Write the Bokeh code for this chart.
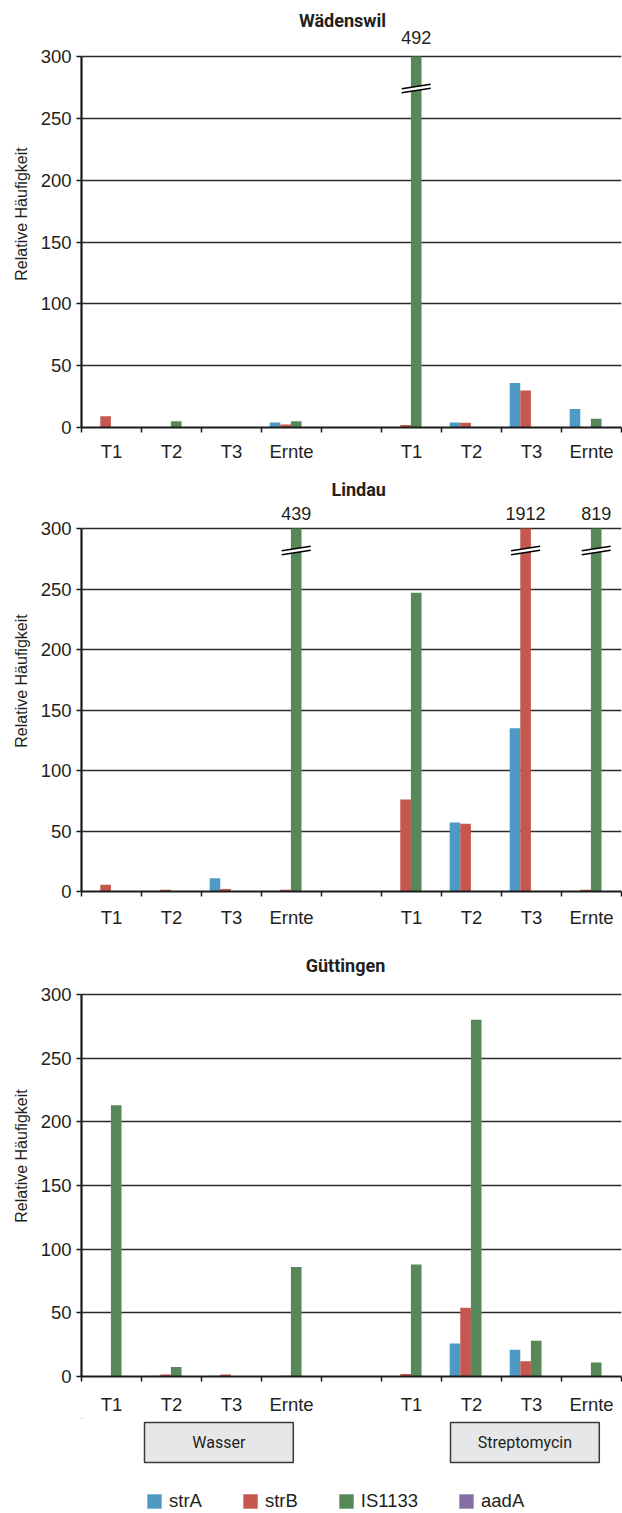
import numpy as np
from bokeh.plotting import figure
from bokeh.models import Range1d, FixedTicker, Legend, LegendItem
from bokeh.layouts import column
from bokeh.core.properties import value
from bokeh.embed import file_html
from bokeh.resources import INLINE

# ---------------- data ----------------
categories = ["T1", "T2", "T3", "Ernte", "", "T1", "T2", "T3", "Ernte"]
series = ["strA", "strB", "IS1133", "aadA"]
sites = ["Wädenswil", "Lindau", "Güttingen"]
treatments = ["Wasser", "Streptomycin"]
y_ticks = [0, 50, 100, 150, 200, 250, 300]
y_label = "Relative Häufigkeit"

waed_strA = [0, 0, 0, 4, 0, 0, 4, 36, 15]
waed_strB = [9, 0, 0, 2.5, 0, 2, 3.8, 30, 0]
waed_is1133 = [0, 5, 0, 5, 0, 492, 0, 0, 7]
waed_aadA = [0, 0, 0, 0, 0, 0, 0, 0, 0]

lind_strA = [0, 0, 11, 0, 0, 0, 57, 135, 0]
lind_strB = [5.5, 1.5, 2, 1.5, 0, 76, 56, 1912, 1.5]
lind_is1133 = [0, 0, 0, 439, 0, 247, 0, 0, 819]
lind_aadA = [0, 0, 0, 0, 0, 0, 0, 0, 0]

gutt_strA = [0, 0.5, 0.5, 0, 0, 0, 26, 21, 0]
gutt_strB = [0, 1.5, 1.5, 0.5, 0, 2, 54, 12, 0]
gutt_is1133 = [213, 7.5, 0, 86, 0, 88, 280, 28, 11]
gutt_aadA = [0, 0, 0, 0, 0, 0, 0, 0, 0]

# ---------------- style ----------------
colors = ["#4F9AC5", "#C5574F", "#56885A", "#8570A3"]
TXT = "#231f20"
GRID = "#2b2b2b"
AXIS = "#1a1a1a"
FONT = "Liberation Sans"
TITLE_FONT = "Roboto"
Y_MAX = 300
BAR_W = 0.177
GROUP_C = 0.49
FIG_W = 622
LEFT = 81
RIGHT = 1

# per panel layout: fig height, bottom border, px from frame top to 300 line,
# title baseline px from frame top, value-label baseline px, title center x (data),
# break px below 300, x label standoff
layouts = [
    dict(H=470, B=43, T=56, title_px=20, val_px=37, title_x=4.35, brk=32, so=8),
    dict(H=465, B=44, T=58, title_px=19, val_px=43, title_x=4.62, brk=22, so=10),
    dict(H=482, B=40, T=59, title_px=30, val_px=43, title_x=4.40, brk=22, so=12),
]

panel_data = [
    [waed_strA, waed_strB, waed_is1133, waed_aadA],
    [lind_strA, lind_strB, lind_is1133, lind_aadA],
    [gutt_strA, gutt_strB, gutt_is1133, gutt_aadA],
]


def make_panel(site, data, L):
    F = L["H"] - L["B"]
    s = (F - L["T"]) / Y_MAX  # px per unit
    y_end = F / s
    p = figure(width=FIG_W, height=L["H"], x_range=Range1d(0, 9), y_range=Range1d(0, y_end),
               output_backend="svg", toolbar_location=None,
               min_border_left=LEFT, min_border_right=RIGHT, min_border_top=0,
               min_border_bottom=L["B"])
    p.outline_line_color = None
    p.background_fill_color = "white"
    p.border_fill_color = "white"
    p.xgrid.visible = False
    p.ygrid.ticker = FixedTicker(ticks=y_ticks)
    p.ygrid.bounds = (0, Y_MAX)
    p.ygrid.grid_line_color = GRID
    p.ygrid.grid_line_width = 1.4

    # bars
    for j, (name, vals) in enumerate(zip(series, data)):
        vals = np.array(vals, dtype=float)
        xs = np.arange(len(categories)) + GROUP_C + (j - 1.5) * BAR_W
        tops = np.minimum(vals, Y_MAX)
        p.vbar(x=xs, top=tops, bottom=0, width=BAR_W, fill_color=colors[j], line_color=None)
        # broken bars
        over = vals > Y_MAX
        for xc, v in zip(xs[over], vals[over]):
            p.text(x=[xc], y=[y_end - L["val_px"] / s], text=[f"{int(v)}"],
                   text_align="center", text_baseline="alphabetic",
                   text_font=value(FONT), text_font_size="18px", text_color=TXT)
            hw = 14.5 / 60.0
            yb = Y_MAX - L["brk"] / s
            rise = 4.5 / s
            gap = 4.0 / s
            xl, xr = xc - hw, xc + hw
            p.patch(x=[xl, xr, xr, xl],
                    y=[yb - rise / 2 + gap / 2, yb + rise / 2 + gap / 2,
                       yb + rise / 2 - gap / 2, yb - rise / 2 - gap / 2],
                    fill_color="white", line_color=None)
            p.multi_line(xs=[[xl, xr], [xl, xr]],
                         ys=[[yb - rise / 2 + gap / 2, yb + rise / 2 + gap / 2],
                             [yb - rise / 2 - gap / 2, yb + rise / 2 - gap / 2]],
                         line_color="black", line_width=1.3)

    # site title
    p.text(x=[L["title_x"]], y=[y_end - L["title_px"] / s], text=[site],
           text_align="center", text_baseline="alphabetic",
           text_font=value(TITLE_FONT), text_font_style="bold", text_font_size="18px",
           text_color=TXT)

    # y axis
    ya = p.yaxis[0]
    ya.ticker = FixedTicker(ticks=y_ticks)
    ya.bounds = (0, Y_MAX)
    ya.axis_label = y_label
    ya.axis_label_text_font = FONT
    ya.axis_label_text_font_size = "16px"
    ya.axis_label_text_font_style = "normal"
    ya.axis_label_text_color = TXT
    ya.axis_label_standoff = 8
    ya.major_label_text_font = FONT
    ya.major_label_text_font_size = "18.5px"
    ya.major_label_text_color = TXT
    ya.major_label_standoff = 5
    ya.axis_line_color = AXIS
    ya.axis_line_width = 2.2
    ya.major_tick_line_color = AXIS
    ya.major_tick_line_width = 1.5
    ya.major_tick_out = 5
    ya.major_tick_in = 0
    ya.minor_tick_line_color = None

    # x axis
    xa = p.xaxis[0]
    xa.ticker = FixedTicker(ticks=[i + 0.5 for i in range(len(categories))],
                            minor_ticks=list(range(len(categories) + 1)))
    xa.major_label_overrides = {i + 0.5: c for i, c in enumerate(categories)}
    xa.major_label_text_font = FONT
    xa.major_label_text_font_size = "18.5px"
    xa.major_label_text_color = TXT
    xa.major_label_standoff = L["so"]
    xa.major_tick_line_color = None
    xa.major_tick_out = 0
    xa.major_tick_in = 0
    xa.minor_tick_line_color = AXIS
    xa.minor_tick_line_width = 1.5
    xa.minor_tick_out = 5
    xa.minor_tick_in = 0
    xa.axis_line_color = AXIS
    xa.axis_line_width = 2.2
    return p


panels = [make_panel(site, d, L) for site, d, L in zip(sites, panel_data, layouts)]

# ---------------- treatment boxes + legend ----------------
H4 = 1513 - sum(L["H"] for L in layouts)
p4 = figure(width=FIG_W, height=H4, x_range=Range1d(0, 9), y_range=Range1d(H4, 0),
            output_backend="svg", toolbar_location=None,
            x_axis_location=None, y_axis_location=None,
            min_border_left=LEFT, min_border_right=RIGHT, min_border_top=0, min_border_bottom=0)
p4.outline_line_color = None
p4.grid.visible = False
box_left = [1.05, 6.15]
box_right = [3.53, 8.63]
p4.quad(left=box_left, right=box_right, top=[5, 5], bottom=[45, 45],
        fill_color="#e6e7e8", line_color="#3a3a3a", line_width=1.5)
p4.text(x=[(a + b) / 2 for a, b in zip(box_left, box_right)], y=[25, 25], text=treatments,
        text_align="center", text_baseline="middle", text_font=value(TITLE_FONT),
        text_font_size="16px", text_color=TXT)

items = []
for name, c in zip(series, colors):
    r = p4.vbar(x=[-5], top=[1], bottom=[0], width=0.1, fill_color=c, line_color=None)
    items.append(LegendItem(label=name, renderers=[r]))
legend = Legend(items=items, orientation="horizontal", location=(64, 1),
                glyph_width=18, glyph_height=18, label_standoff=6, spacing=39,
                padding=0, margin=0, border_line_color=None, background_fill_alpha=0,
                label_text_font=FONT, label_text_font_size="18.5px", label_text_color=TXT,
                label_height=18)
p4.add_layout(legend)

layout = column(*panels, p4, spacing=0)
open("out.html", "w").write(file_html(layout, INLINE))
